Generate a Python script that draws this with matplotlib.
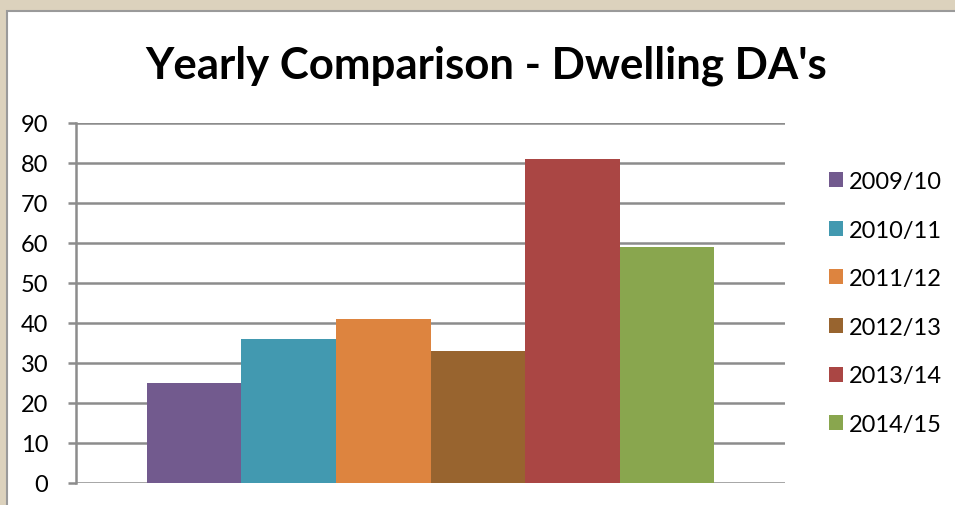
import matplotlib
matplotlib.use("Agg")
import matplotlib.pyplot as plt
from matplotlib.patches import Rectangle

years = ["2009/10", "2010/11", "2011/12", "2012/13", "2013/14", "2014/15"]
counts = [25, 36, 41, 33, 81, 59]
colors = ["#725a8e", "#4299b0", "#dd843f", "#98642f", "#aa4644", "#89a64e"]
yticks = [0, 10, 20, 30, 40, 50, 60, 70, 80, 90]

plt.rcParams["font.family"] = ["Lato", "DejaVu Sans"]

fig = plt.figure(figsize=(9.55, 5.06), dpi=100)
fig.patch.set_facecolor("#dcd2bd")

# white chart panel on the parchment
panel = Rectangle((7 / 955, -0.05), 1.0, 1 - 12 / 506 + 0.05, transform=fig.transFigure,
                  facecolor="white", edgecolor="#9a9a9a", linewidth=1.5, zorder=-1)
fig.patches.append(panel)

ax = fig.add_axes([76 / 955, 22 / 506, (785 - 76) / 955, (484 - 124) / 506])
ax.set_facecolor("none")

n = len(years)
w = 0.8 / n
handles = []
for i, (yr, c, col) in enumerate(zip(years, counts, colors)):
    b = ax.bar(-0.4 + w * (i + 0.5), c, width=w, color=col, label=yr, zorder=3)
    handles.append(b)

ax.set_xlim(-0.5, 0.5)
ax.set_ylim(0, 90)
ax.set_yticks(yticks)
ax.set_yticklabels([str(t) for t in yticks], fontsize=17)
ax.set_xticks([])
ax.yaxis.grid(True, color="#8c8c8c", linewidth=1.8, zorder=0)
ax.set_axisbelow(True)
for s in ["top", "right", "bottom"]:
    ax.spines[s].set_visible(False)
ax.spines["left"].set_color("#8c8c8c")
ax.spines["left"].set_linewidth(1.8)
ax.tick_params(axis="y", length=6, width=1.8, color="#8c8c8c", pad=14)

fig.text(0.509, 1 - 66 / 506, "Yearly Comparison - Dwelling DA's", ha="center", va="center",
         fontsize=31.5, fontweight="bold")

fig.legend(handles=handles, labels=years, loc="center left", bbox_to_anchor=(829 / 955, 1 - 304 / 506),
           frameon=False, fontsize=17, handlelength=0.6, handleheight=0.6, handletextpad=0.25,
           labelspacing=1.17, borderpad=0, borderaxespad=0)

fig.savefig("out.png", dpi=100, facecolor=fig.get_facecolor())
